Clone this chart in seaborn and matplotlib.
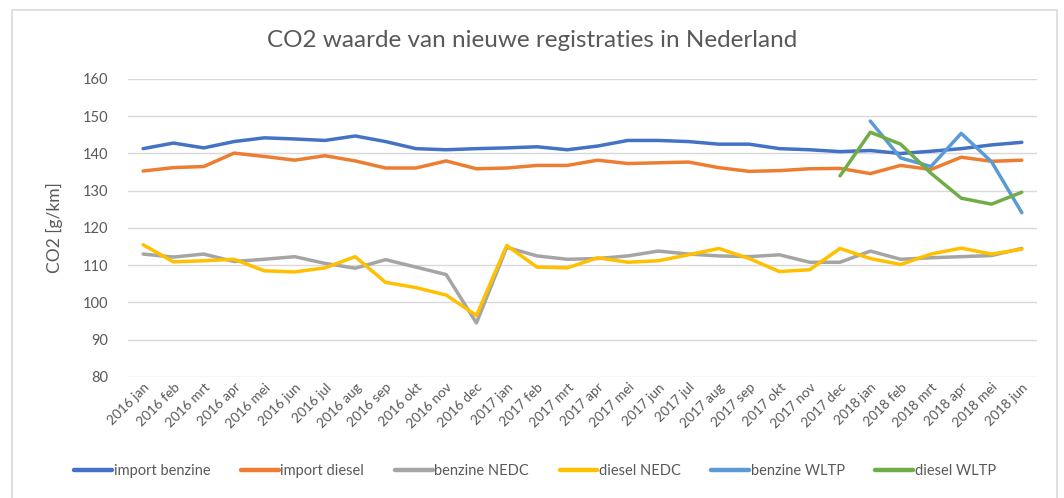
import numpy as np
import pandas as pd
import seaborn as sns
import matplotlib.pyplot as plt
from matplotlib.patches import Rectangle

# Months on the category axis
months = ['2016 jan', '2016 feb', '2016 mrt', '2016 apr', '2016 mei', '2016 jun',
          '2016 jul', '2016 aug', '2016 sep', '2016 okt', '2016 nov', '2016 dec',
          '2017 jan', '2017 feb', '2017 mrt', '2017 apr', '2017 mei', '2017 jun',
          '2017 jul', '2017 aug', '2017 sep', '2017 okt', '2017 nov', '2017 dec',
          '2018 jan', '2018 feb', '2018 mrt', '2018 apr', '2018 mei', '2018 jun']

nan = np.nan
import_benzine = [141.3, 142.8, 141.5, 143.2, 144.2, 143.9, 143.5, 144.7, 143.2, 141.3,
                  141.0, 141.3, 141.5, 141.8, 141.0, 142.0, 143.5, 143.5, 143.2, 142.5,
                  142.5, 141.3, 141.0, 140.5, 140.8, 140.0, 140.6, 141.3, 142.3, 143.0]
import_diesel = [135.3, 136.2, 136.5, 140.1, 139.2, 138.2, 139.4, 138.0, 136.1, 136.1,
                 138.0, 135.9, 136.1, 136.8, 136.8, 138.2, 137.3, 137.5, 137.7, 136.2,
                 135.2, 135.4, 135.9, 136.0, 134.6, 136.8, 135.7, 139.0, 137.9, 138.2]
benzine_nedc = [113.0, 112.2, 113.0, 111.0, 111.6, 112.3, 110.5, 109.2, 111.5, 109.5,
                107.5, 94.5, 114.8, 112.5, 111.6, 111.8, 112.5, 113.8, 113.0, 112.5,
                112.3, 112.8, 110.8, 110.8, 113.8, 111.6, 112.0, 112.3, 112.6, 114.5]
diesel_nedc = [115.5, 110.9, 111.2, 111.6, 108.5, 108.2, 109.3, 112.3, 105.4, 104.0,
               102.0, 96.5, 115.3, 109.5, 109.3, 112.0, 110.8, 111.2, 112.8, 114.5,
               111.8, 108.3, 108.8, 114.5, 111.8, 110.2, 113.0, 114.6, 113.0, 114.3]
benzine_wltp = [nan] * 24 + [148.7, 138.8, 136.5, 145.4, 137.8, 124.1]
diesel_wltp = [nan] * 23 + [134.0, 145.7, 142.5, 134.7, 128.0, 126.4, 129.6]

series = {
    'import benzine': import_benzine,
    'import diesel': import_diesel,
    'benzine NEDC': benzine_nedc,
    'diesel NEDC': diesel_nedc,
    'benzine WLTP': benzine_wltp,
    'diesel WLTP': diesel_wltp,
}
colors = ['#4472C4', '#ED7D31', '#A5A5A5', '#FFC000', '#5B9BD5', '#70AD47']

rows = []
for name, vals in series.items():
    for i, v in enumerate(vals):
        rows.append({'idx': i, 'value': v, 'serie': name})
df = pd.DataFrame(rows).dropna()

sns.set_style('white')
plt.rcParams['font.family'] = ['Lato', 'DejaVu Sans']

fig = plt.figure(figsize=(10.64, 4.98), dpi=100)
ax = fig.add_axes([0.1203, 0.2430, 0.8543, 0.5984])

sns.lineplot(data=df, x='idx', y='value', hue='serie', palette=colors,
             hue_order=list(series.keys()), linewidth=2.5, sort=False, ax=ax)

ax.set_xlim(-0.5, len(months) - 0.5)
ax.set_ylim(80, 160)
ax.set_yticks(range(80, 161, 10))
ax.set_xticks(range(len(months)))
ax.set_xticklabels(months, rotation=45, ha='right', rotation_mode='anchor',
                   fontsize=9.8, color='#595959')
ax.tick_params(axis='y', labelsize=10.5, labelcolor='#595959', length=0, pad=14)
ax.tick_params(axis='x', length=0, pad=3)
ax.grid(axis='y', color='#D9D9D9', linewidth=1)
ax.set_axisbelow(True)
sns.despine(ax=ax, left=True, bottom=True)
ax.set_xlabel('')
ax.set_ylabel('CO2 [g/km]', fontsize=12.5, color='#595959', labelpad=14)

fig.suptitle('CO2 waarde van nieuwe registraties in Nederland', x=0.5, y=0.94,
             fontsize=17.5, color='#595959')

leg = ax.legend(loc='center', bbox_to_anchor=(0.503, 0.055), bbox_transform=fig.transFigure,
                ncol=6, frameon=False, fontsize=10.5, handlelength=2.6,
                columnspacing=2.1, handletextpad=0.1)
for line in leg.get_lines():
    line.set_linewidth(3.2)
for t in leg.get_texts():
    t.set_color('#595959')

# chart border like the spreadsheet chart frame
fig.patches.append(Rectangle((12 / 1064, -0.01), 1045 / 1064, (498 - 10) / 498 + 0.01,
                             transform=fig.transFigure, fill=False,
                             edgecolor='#D9D9D9', linewidth=1.2))

fig.savefig('out.png', dpi=100)
